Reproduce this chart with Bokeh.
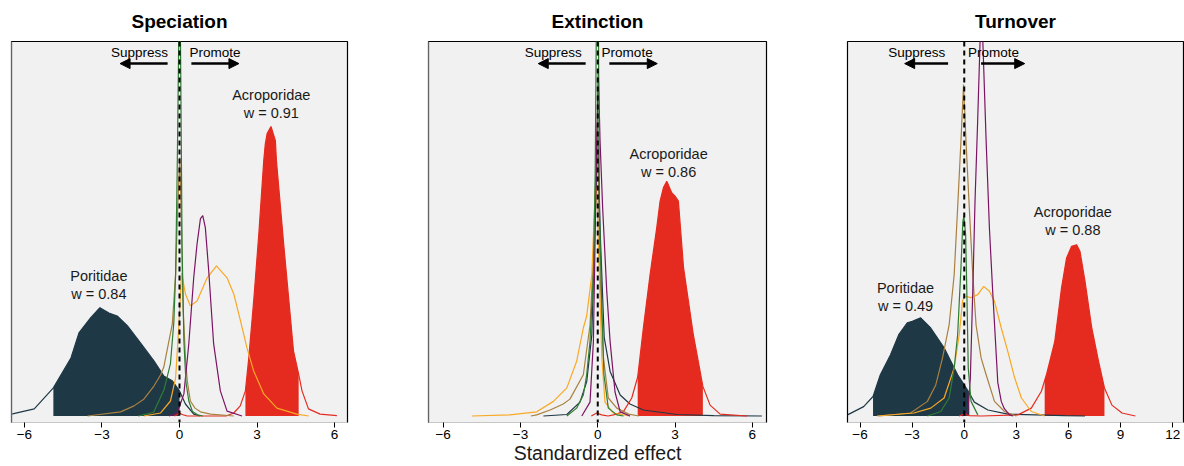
import numpy as np
from bokeh.plotting import figure
from bokeh.layouts import row
from bokeh.models import Range1d, FixedTicker, Span, Label, Arrow, NormalHead
from bokeh.embed import file_html
from bokeh.resources import INLINE

# ---------------- data (relative density heights) ----------------
titles = ["Speciation", "Extinction", "Turnover"]
tick_sets = [[-6, -3, 0, 3, 6], [-6, -3, 0, 3, 6], [-6, -3, 0, 3, 6, 9, 12]]
x_label = "Standardized effect"

# Speciation
spec_poritidae_x = [-6.5, -5.62, -4.88, -4.2, -3.89, -3.44, -3.08, -2.73, -2.41, -2.02, -1.51, -0.99, -0.61, -0.28, 0.0, 0.23, 0.55, 0.8]
spec_poritidae_y = [0.005, 0.019, 0.075, 0.155, 0.222, 0.262, 0.289, 0.275, 0.267, 0.241, 0.195, 0.147, 0.107, 0.094, 0.067, 0.032, 0.005, 0.0]
spec_acroporidae_x = [-0.2, -0.05, 0.0, 0.1, 0.3, 1.8, 2.1, 2.35, 2.55, 2.68, 2.87, 3.07, 3.26, 3.32, 3.39, 3.54, 3.71, 3.75, 4.03, 4.41, 4.61, 4.74, 4.99, 5.44, 6.09]
spec_acroporidae_y = [0.0, 0.005, 0.008, 0.004, 0.0, 0.0, 0.008, 0.027, 0.067, 0.155, 0.307, 0.487, 0.682, 0.727, 0.754, 0.773, 0.735, 0.682, 0.46, 0.174, 0.112, 0.067, 0.019, 0.005, 0.001]
spec_green_x = [-1.6, -1.0, -0.6, -0.35, -0.22, -0.15, -0.09, -0.03, 0.0, 0.05, 0.1, 0.17, 0.25, 0.36, 0.5, 0.7, 0.9]
spec_green_y = [0.0, 0.01, 0.07, 0.14, 0.25, 0.38, 0.65, 1.0, 1.3, 0.9, 0.45, 0.2, 0.09, 0.04, 0.012, 0.003, 0.0]
spec_brown_x = [-3.56, -2.28, -1.76, -1.38, -0.99, -0.73, -0.61, -0.28, -0.15, -0.07, 0.01, 0.06, 0.14, 0.23, 0.3, 0.42, 0.6, 0.81, 1.2, 2.1]
spec_brown_y = [0.0, 0.011, 0.027, 0.045, 0.08, 0.11, 0.13, 0.245, 0.379, 0.556, 0.69, 0.556, 0.289, 0.155, 0.094, 0.04, 0.021, 0.011, 0.005, 0.0]
spec_orange_x = [-1.38, -0.73, -0.35, -0.15, -0.03, 0.08, 0.23, 0.42, 0.68, 1.07, 1.43, 1.84, 2.1, 2.36, 2.61, 2.87, 3.26, 3.77, 4.54, 5.0]
spec_orange_y = [0.0, 0.008, 0.04, 0.102, 0.235, 0.382, 0.326, 0.294, 0.307, 0.369, 0.401, 0.369, 0.326, 0.254, 0.182, 0.12, 0.059, 0.021, 0.005, 0.0]
spec_purple_x = [-0.41, -0.09, 0.17, 0.36, 0.55, 0.68, 0.81, 0.9, 1.0, 1.13, 1.32, 1.58, 1.84, 2.42]
spec_purple_y = [0.0, 0.008, 0.059, 0.193, 0.369, 0.46, 0.527, 0.535, 0.503, 0.388, 0.193, 0.067, 0.013, 0.0]

# Extinction
ext_poritidae_x = [-2.11, -1.2, -0.69, -0.43, -0.23, -0.1, 0.0, 0.1, 0.25, 0.48, 0.87, 1.25, 1.77, 3.07, 4.5, 6.37]
ext_poritidae_y = [0.0, 0.004, 0.037, 0.091, 0.217, 0.535, 0.75, 0.48, 0.21, 0.119, 0.056, 0.032, 0.016, 0.004, 0.001, 0.0]
ext_acroporidae_x = [-0.25, -0.04, 0.15, 0.4, 0.61, 0.99, 1.32, 1.55, 1.77, 2.03, 2.29, 2.42, 2.55, 2.68, 2.87, 3.0, 3.13, 3.33, 3.71, 4.08, 4.36, 4.75, 5.79]
ext_acroporidae_y = [0.0, 0.008, 0.003, 0.0, 0.003, 0.011, 0.048, 0.104, 0.235, 0.377, 0.503, 0.574, 0.61, 0.627, 0.596, 0.587, 0.574, 0.396, 0.217, 0.079, 0.029, 0.005, 0.0]
ext_green_x = [-1.2, -0.82, -0.56, -0.43, -0.3, -0.17, -0.1, -0.06, -0.03, 0.03, 0.06, 0.16, 0.24, 0.41, 0.74, 1.0]
ext_green_y = [0.0, 0.021, 0.056, 0.11, 0.2, 0.377, 0.644, 1.0, 1.3, 1.0, 0.556, 0.289, 0.11, 0.021, 0.003, 0.0]
ext_brown_x = [-2.6, -2.37, -1.85, -1.34, -1.08, -0.56, -0.3, -0.17, -0.02, 0.09, 0.22, 0.41, 0.74, 1.2, 1.6]
ext_brown_y = [0.0, 0.003, 0.016, 0.032, 0.045, 0.11, 0.243, 0.422, 0.778, 0.377, 0.155, 0.048, 0.021, 0.005, 0.0]
ext_orange_x = [-4.89, -3.41, -2.37, -1.72, -1.2, -0.82, -0.56, -0.43, -0.23, -0.1, -0.04, 0.06, 0.16, 0.28, 0.6, 1.25]
ext_orange_y = [0.0, 0.003, 0.011, 0.039, 0.075, 0.146, 0.235, 0.267, 0.377, 0.599, 0.61, 0.377, 0.155, 0.037, 0.008, 0.0]
ext_purple_x = [-0.62, -0.3, -0.17, -0.04, 0.02, 0.09, 0.19, 0.35, 0.48, 0.67, 0.87, 1.25]
ext_purple_y = [0.0, 0.037, 0.198, 0.733, 0.922, 0.733, 0.556, 0.332, 0.198, 0.064, 0.011, 0.0]

# Turnover
turn_poritidae_x = [-6.72, -5.79, -5.25, -4.83, -4.25, -3.77, -3.28, -2.99, -2.51, -1.93, -1.16, -0.38, 0.0, 0.29, 0.58, 1.36, 2.51, 5.79, 6.95]
turn_poritidae_y = [0.003, 0.025, 0.052, 0.11, 0.163, 0.217, 0.249, 0.253, 0.262, 0.235, 0.182, 0.11, 0.083, 0.061, 0.037, 0.016, 0.005, 0.001, 0.0]
turn_acroporidae_x = [-0.3, 0.0, 0.3, 1.0, 3.09, 3.86, 4.44, 4.73, 5.21, 5.6, 5.89, 6.18, 6.47, 6.66, 6.95, 7.34, 7.73, 8.07, 8.5, 9.08, 9.85]
turn_acroporidae_y = [0.0, 0.005, 0.001, 0.0, 0.003, 0.021, 0.066, 0.11, 0.199, 0.342, 0.422, 0.453, 0.457, 0.44, 0.36, 0.235, 0.146, 0.075, 0.029, 0.008, 0.0]
turn_green_x = [-2.12, -1.35, -0.87, -0.58, -0.38, -0.19, -0.08, -0.02, 0.08, 0.16, 0.23, 0.39, 0.78]
turn_green_y = [0.0, 0.012, 0.048, 0.128, 0.217, 0.396, 0.52, 0.533, 0.484, 0.306, 0.128, 0.039, 0.003]
turn_brown_x = [-4.92, -3.09, -2.12, -1.64, -1.25, -0.87, -0.58, -0.38, -0.19, -0.04, 0.1, 0.29, 0.49, 0.68, 0.97, 1.26, 1.74, 2.32, 3.0]
turn_brown_y = [0.0, 0.008, 0.039, 0.083, 0.155, 0.243, 0.377, 0.556, 0.734, 0.885, 0.734, 0.556, 0.377, 0.243, 0.155, 0.11, 0.039, 0.012, 0.0]
turn_orange_x = [-5.02, -2.9, -1.93, -1.16, -0.58, -0.29, -0.1, 0.0, 0.39, 0.78, 1.12, 1.45, 1.74, 2.13, 2.51, 2.9, 3.29, 3.86, 4.63]
turn_orange_y = [0.0, 0.008, 0.021, 0.048, 0.128, 0.217, 0.306, 0.32, 0.316, 0.324, 0.346, 0.333, 0.306, 0.235, 0.172, 0.102, 0.048, 0.012, 0.0]
turn_purple_x = [-0.1, 0.2, 0.35, 0.5, 0.62, 0.78, 0.91, 1.0, 1.07, 1.26, 1.45, 1.64, 1.93, 2.13, 2.3, 2.6, 2.8]
turn_purple_y = [0.0, 0.01, 0.1, 0.35, 0.574, 0.8, 1.0, 1.15, 1.0, 0.734, 0.5, 0.33, 0.09, 0.039, 0.02, 0.003, 0.0]

# credible-interval fill bounds and weights
spec_fills = {"Poritidae": (-4.88, 0.0), "Acroporidae": (2.55, 4.61)}
ext_fills = {"Acroporidae": (1.55, 4.08)}
turn_fills = {"Poritidae": (-5.25, 0.29), "Acroporidae": (4.63, 8.07)}
spec_labels = [("Poritidae", "w = 0.84", -3.12, 0.374), ("Acroporidae", "w = 0.91", 3.55, 0.856)]
ext_labels = [("Acroporidae", "w = 0.86", 2.75, 0.699)]
turn_labels = [("Poritidae", "w = 0.49", -3.38, 0.341), ("Acroporidae", "w = 0.88", 6.25, 0.544)]

COLORS = {
    "Poritidae": "#1f3846",
    "Acroporidae": "#e52b1f",
    "green": "#2e7d32",
    "brown": "#a8803f",
    "orange": "#f9a825",
    "purple": "#7b1462",
}

FONT = "Liberation Sans"


def make_panel(title, curves, fills, labels, xr, ticks, width, bl, br, arrows, left_col, xlabel=" "):
    p = figure(width=width, height=466, output_backend="svg", toolbar_location=None,
               x_range=Range1d(*xr), y_range=Range1d(-0.0174, 1.0),
               y_axis_location=None, min_border_left=bl, min_border_right=br,
               min_border_top=41, min_border_bottom=44)
    p.title.text = title
    p.title.align = "center"
    p.title.vertical_align = "top"
    p.title.text_font = FONT
    p.title.text_font_size = "19px"
    p.title.text_font_style = "bold"
    p.title.text_color = "black"
    p.title.standoff = 15
    p.background_fill_color = "#f1f1f1"
    p.border_fill_color = "white"
    p.outline_line_color = "black"
    p.outline_line_width = 1.2
    p.xgrid.visible = False
    p.ygrid.visible = False
    ax = p.xaxis[0]
    ax.ticker = FixedTicker(ticks=ticks)
    ax.major_label_overrides = {t: (("\u2212" + str(abs(t))) if t < 0 else str(t)) for t in ticks}
    ax.major_label_text_font = FONT
    ax.major_label_text_font_size = "13.5px"
    ax.major_label_text_color = "black"
    ax.major_label_standoff = 2
    ax.major_tick_in = 0
    ax.major_tick_out = 5
    ax.major_tick_line_color = "black"
    ax.minor_tick_line_color = None
    ax.axis_line_color = "#c6c6c6"
    ax.axis_label = xlabel
    ax.axis_label_text_font = FONT
    ax.axis_label_text_font_size = "19.5px"
    ax.axis_label_text_font_style = "normal"
    ax.axis_label_text_color = "#1a1a1a"
    ax.axis_label_standoff = 0

    if left_col != "black":
        p.add_layout(Span(location=xr[0], dimension="height", line_color=left_col, line_width=1.5))

    # filled intervals
    for name, (lo, hi) in fills.items():
        cx, cy = curves[name]
        xs = [lo] + [v for v in cx if lo < v < hi] + [hi]
        ys = np.interp(xs, cx, cy)
        p.varea(x=xs, y1=0, y2=ys, fill_color=COLORS[name])

    for name in ["Poritidae", "Acroporidae", "brown", "orange", "purple", "green"]:
        cx, cy = curves[name]
        p.line(cx, cy, line_color=COLORS[name], line_width=1.2)

    p.add_layout(Span(location=0, dimension="height", line_color="black", line_width=2, line_dash="5 4"))

    for fam, wtxt, lx, ly in labels:
        p.add_layout(Label(x=lx, y=ly, text=fam, text_align="center", text_baseline="middle",
                           text_font=FONT, text_font_size="14.5px", text_color="#1a1a1a"))
        p.add_layout(Label(x=lx, y=ly - 0.048, text=wtxt, text_align="center", text_baseline="middle",
                           text_font=FONT, text_font_size="14.5px", text_color="#1a1a1a"))

    (s_txt, s_a0, s_a1), (p_txt, p_a0, p_a1) = arrows
    for txt, tx in [("Suppress", s_txt), ("Promote", p_txt)]:
        p.add_layout(Label(x=tx, y=0.971, text=txt, text_align="center", text_baseline="middle",
                           text_font=FONT, text_font_size="13.5px", text_color="black"))
    for a0, a1 in [(s_a0, s_a1), (p_a0, p_a1)]:
        p.add_layout(Arrow(x_start=a0, y_start=0.941, x_end=a1, y_end=0.941, line_width=2.5,
                           line_color="black",
                           end=NormalHead(size=10, fill_color="black", line_color="black", line_width=1)))
    return p


spec_curves = {"Poritidae": (spec_poritidae_x, spec_poritidae_y), "Acroporidae": (spec_acroporidae_x, spec_acroporidae_y),
               "green": (spec_green_x, spec_green_y), "brown": (spec_brown_x, spec_brown_y),
               "orange": (spec_orange_x, spec_orange_y), "purple": (spec_purple_x, spec_purple_y)}
ext_curves = {"Poritidae": (ext_poritidae_x, ext_poritidae_y), "Acroporidae": (ext_acroporidae_x, ext_acroporidae_y),
              "green": (ext_green_x, ext_green_y), "brown": (ext_brown_x, ext_brown_y),
              "orange": (ext_orange_x, ext_orange_y), "purple": (ext_purple_x, ext_purple_y)}
turn_curves = {"Poritidae": (turn_poritidae_x, turn_poritidae_y), "Acroporidae": (turn_acroporidae_x, turn_acroporidae_y),
               "green": (turn_green_x, turn_green_y), "brown": (turn_brown_x, turn_brown_y),
               "orange": (turn_orange_x, turn_orange_y), "purple": (turn_purple_x, turn_purple_y)}

p1 = make_panel(titles[0], spec_curves, spec_fills, spec_labels, (-6.5, 6.5), tick_sets[0], 388, 11, 41,
                ((-1.55, -0.46, -2.3), (1.37, 0.46, 2.3)), "#c6c6c6")
p2 = make_panel(titles[1], ext_curves, ext_fills, ext_labels, (-6.57, 6.55), tick_sets[1], 418, 40, 40,
                ((-1.73, -0.47, -2.31), (1.14, 0.45, 2.31)), "#c6c6c6", xlabel=x_label)
p3 = make_panel(titles[2], turn_curves, turn_fills, turn_labels, (-6.72, 12.62), tick_sets[2], 378, 41, 1,
                ((-2.74, -0.93, -3.43), (1.68, 0.97, 3.48)), "black")

layout = row(p1, p2, p3, spacing=0)
open("out.html", "w").write(file_html(layout, INLINE))
